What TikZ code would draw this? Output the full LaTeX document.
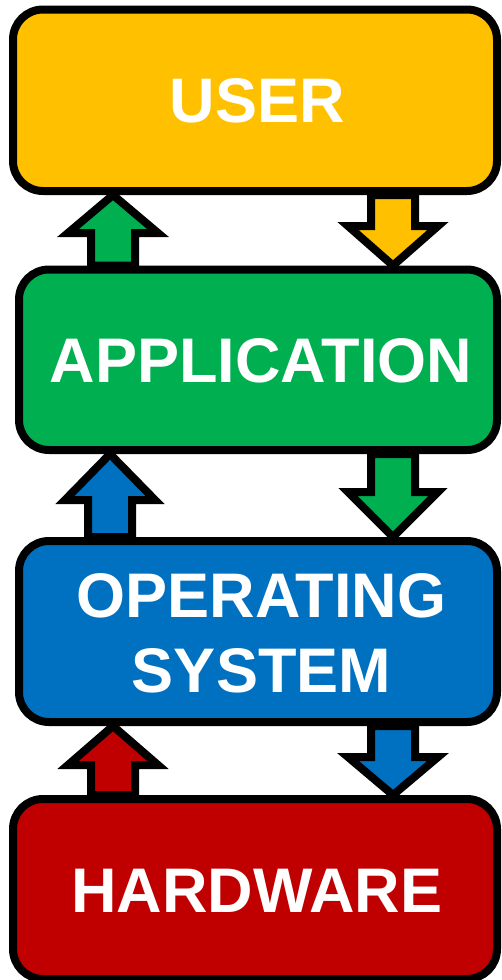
\documentclass[tikz,border=0pt]{standalone}
\usepackage{fontspec}
\setmainfont{Liberation Sans}
\usetikzlibrary{calc}
\definecolor{cuser}{HTML}{FFC000}
\definecolor{capp}{HTML}{00B050}
\definecolor{cos}{HTML}{0070C0}
\definecolor{chw}{HTML}{C00000}
\tikzset{
  layer/.style={draw=black, line width=8pt, rounded corners=30pt, inner sep=0pt},
  layertext/.style={text=white, font=\fontsize{63}{75}\selectfont\bfseries, align=center, inner sep=0pt},
  blockarrow/.style={draw=black, line width=8pt, line join=miter, miter limit=12},
}
% #1 colour, #2 x, #3 lower node (tail), #4 upper node (tip), #5 head length
\newcommand\blkup[5]{%
  \draw[blockarrow, fill=#1] let \p1=(#4.south), \p2=(#3.north) in
    (#2pt,\y1) -- ({#2pt+45pt},{\y1-#5pt}) -- ({#2pt+22pt},{\y1-#5pt})
    -- ({#2pt+22pt},\y2) -- ({#2pt-22pt},\y2) -- ({#2pt-22pt},{\y1-#5pt})
    -- ({#2pt-45pt},{\y1-#5pt}) -- cycle;}
% #1 colour, #2 x, #3 upper node (tail), #4 lower node (tip), #5 head length
\newcommand\blkdown[5]{%
  \draw[blockarrow, fill=#1] let \p1=(#3.south), \p2=(#4.north) in
    (#2pt,\y2) -- ({#2pt+45pt},{\y2+#5pt}) -- ({#2pt+22pt},{\y2+#5pt})
    -- ({#2pt+22pt},\y1) -- ({#2pt-22pt},\y1) -- ({#2pt-22pt},{\y2+#5pt})
    -- ({#2pt-45pt},{\y2+#5pt}) -- cycle;}
\begin{document}
\begin{tikzpicture}[x=1pt,y=-1pt]
\useasboundingbox (0,0) rectangle (502,980);
% positions of the layers (used first by the arrows, drawn afterwards)
\path
  node[layer, minimum width=484pt, minimum height=181.5pt, draw=none] (user) at (255,100.25) {}
  node[layer, minimum width=478pt, minimum height=180.5pt, draw=none] (app) at (258,359.75) {}
  node[layer, minimum width=478pt, minimum height=181pt, draw=none] (os) at (258,631.5) {}
  node[layer, minimum width=484pt, minimum height=180pt, draw=none] (hw) at (255,889) {};
% arrows
\blkup{capp}{113}{app}{user}{38}
\blkdown{cuser}{393}{user}{app}{39.5}
\blkup{cos}{110}{os}{app}{46}
\blkdown{capp}{393}{app}{os}{45}
\blkup{chw}{113}{hw}{os}{39}
\blkdown{cos}{393}{os}{hw}{38}
% layers
\node[layer, fill=cuser, minimum width=484pt, minimum height=181.5pt] (userbox) at (user) {};
\node[layer, fill=capp, minimum width=478pt, minimum height=180.5pt] (appbox) at (app) {};
\node[layer, fill=cos, minimum width=478pt, minimum height=181pt] (osbox) at (os) {};
\node[layer, fill=chw, minimum width=484pt, minimum height=180pt] (hwbox) at (hw) {};
% texts
\node[layertext] (usertext) at ($(userbox.center)+(2.5,0.5)$) {USER};
\node[layertext] (apptext) at ($(appbox.center)+(3,1)$) {APPLICATION};
\node[layertext] (ostext) at ($(osbox.center)+(3.5,1.5)$) {OPERATING\\SYSTEM};
\node[layertext] (hwtext) at ($(hwbox.center)+(2,1.5)$) {HARDWARE};
\end{tikzpicture}
\end{document}
